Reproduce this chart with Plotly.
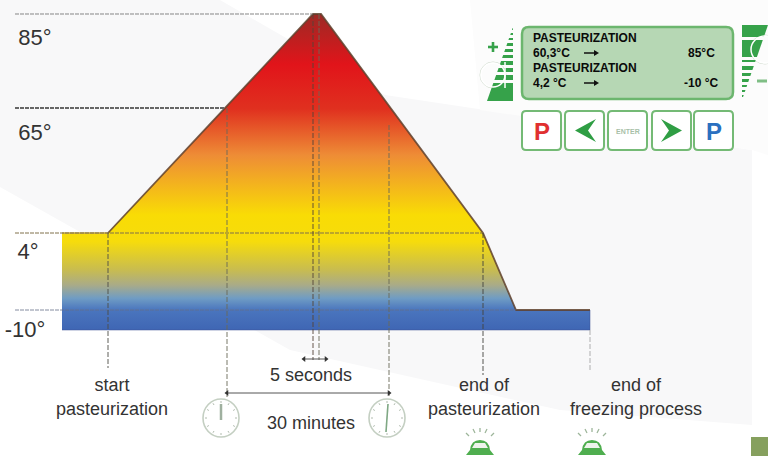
import math
import plotly.graph_objects as go

# Schematic process profile (horizontal stage / vertical level units)
profile_x = [62, 108, 313, 321, 483, 516, 590, 590, 62, 62]
profile_y = [233, 233, 14, 14, 233, 310, 310, 330, 330, 233]
outline_x = [62, 108, 313, 321, 483, 516, 590]
outline_y = [233, 233, 14, 14, 233, 310, 310]

temp_labels = ["85°", "65°", "4°", "-10°"]
temp_label_x = [35, 35, 28, 25]
temp_label_y = [39, 134, 253, 331]

h_levels = [14, 108, 233, 310]
h_ends = [313, 225, 483, 516]
h_widths = [1.0, 2.0, 1.0, 0.8]
h_colors = ["#858585", "#666666", "#80704a", "#666f88"]

v_stage = [108, 227, 313, 319, 389, 483, 590]
v_top = [233, 108, 14, 14, 125, 233, 330]
v_bottom = [368, 397, 360, 360, 397, 375, 372]
v_colors = ["#4f4f48", "#6a6a58", "#554538", "#6a6a58", "#6a6a58", "#45453f", "#a8a8a8"]

stage_labels = ["start", "pasteurization", "5 seconds", "30 minutes", "end of",
                "pasteurization", "end of", "freezing process"]
stage_label_x = [112, 112, 311, 311, 484, 484, 636, 636]
stage_label_y = [386, 410, 376, 424, 386, 410, 386, 410]

grad_pos = [0.0, 0.16, 0.30, 0.446, 0.636, 0.72, 0.81, 0.858, 0.90, 0.937, 1.0]
grad_col = ["#9c2a25", "#e1141a", "#e0301f", "#ee8c36", "#f9dc05", "#f6dc0c",
            "#c8bc50", "#a9ab88", "#6f9cc4", "#4a75be", "#3f66b4"]

display_rows = ["PASTEURIZATION", "60,3°C", "PASTEURIZATION", "4,2 °C"]
display_row_y = [38, 53, 68, 83]
display_targets = ["85°C", "-10 °C"]
display_target_x = [717, 720]
display_target_y = [53, 83]

GREEN = "#2f9e44"
fig = go.Figure()
shapes = []
anns = []


def poly(points, fill, line=None, width=0, layer="above"):
    d = "M " + " L ".join(f"{x},{y}" for x, y in points) + " Z"
    shapes.append(dict(type="path", path=d, fillcolor=fill, layer=layer,
                       line=dict(color=line or "rgba(0,0,0,0)", width=width)))


def seg(x0, y0, x1, y1, color, width=1, dash=None, layer="above"):
    shapes.append(dict(type="line", x0=x0, y0=y0, x1=x1, y1=y1, layer=layer,
                       line=dict(color=color, width=width, dash=dash)))


def rrect(x0, y0, x1, y1, r, fill, line, width):
    d = (f"M {x0+r},{y0} L {x1-r},{y0} Q {x1},{y0} {x1},{y0+r} L {x1},{y1-r} Q {x1},{y1} {x1-r},{y1} "
         f"L {x0+r},{y1} Q {x0},{y1} {x0},{y1-r} L {x0},{y0+r} Q {x0},{y0} {x0+r},{y0} Z")
    shapes.append(dict(type="path", path=d, fillcolor=fill, layer="above",
                       line=dict(color=line, width=width)))


def ring(x0, x1, y0, y1, color, width):
    shapes.append(dict(type="circle", x0=x0, x1=x1, y0=y0, y1=y1, layer="above",
                       fillcolor="rgba(0,0,0,0)", line=dict(color=color, width=width)))


# Pale background panels
poly([(0, 0), (220, 0), (385, 95), (752, 150), (752, 425), (560, 410), (290, 350), (0, 187)], "#f8f8f9", layer="below")
poly([(470, 0), (768, 0), (768, 155), (752, 150), (480, 110)], "#fcfcfc", layer="below")
poly([(751, 437), (768, 437), (768, 456), (751, 456)], "#86a05e", layer="below")

# Gradient-filled profile
fig.add_trace(go.Scatter(
    x=profile_x, y=profile_y, mode="none", fill="toself", hoverinfo="skip",
    fillgradient=dict(type="vertical", start=14, stop=330,
                      colorscale=[[p, c] for p, c in zip(grad_pos, grad_col)]),
))
fig.add_trace(go.Scatter(x=outline_x[:2], y=outline_y[:2], mode="lines",
                         line=dict(color="#c2a54a", width=1.5)))
fig.add_trace(go.Scatter(x=outline_x[1:], y=outline_y[1:], mode="lines",
                         line=dict(color="rgba(95,65,45,0.85)", width=1.8)))
fig.add_trace(go.Scatter(x=[590, 590, 62], y=[310, 330, 330], mode="lines",
                         line=dict(color="rgba(60,80,150,0.5)", width=1)))

# Dashed guides
for lv, end, w, col in zip(h_levels, h_ends, h_widths, h_colors):
    fig.add_trace(go.Scatter(x=[15, end], y=[lv, lv], mode="lines",
                             line=dict(color=col, width=w, dash="4px,1px")))
for st, t, b, col in zip(v_stage, v_top, v_bottom, v_colors):
    fig.add_trace(go.Scatter(x=[st, st], y=[t, b], mode="lines", opacity=0.9,
                             line=dict(color=col, width=1, dash="5px,2px")))

# Dimension arrows
for x0, x1, y in [(304, 326, 359), (227, 389, 393)]:
    fig.add_trace(go.Scatter(x=[x0, x1], y=[y, y], mode="lines+markers",
                             line=dict(color="#555555", width=1),
                             marker=dict(symbol=["triangle-left", "triangle-right"], size=5, color="#333333")))

fig.add_trace(go.Scatter(x=temp_label_x, y=temp_label_y, text=temp_labels, mode="text",
                         textfont=dict(family="Liberation Sans", size=22, color="#333333")))
fig.add_trace(go.Scatter(x=stage_label_x, y=stage_label_y, text=stage_labels, mode="text",
                         textfont=dict(family="Liberation Sans", size=18, color="#333333")))

# Clocks
for cx, cy, hand in [(221, 418, 0.0), (387, 418, 0.12)]:
    shapes.append(dict(type="circle", x0=cx - 18, x1=cx + 18, y0=cy - 19, y1=cy + 19, layer="above",
                       fillcolor="rgba(255,255,255,0.6)", line=dict(color="#c4cfc2", width=1.6)))
    for k in range(12):
        a = k * math.pi / 6
        seg(cx + 14 * math.sin(a), cy - 15 * math.cos(a), cx + 16 * math.sin(a), cy - 17 * math.cos(a), "#b0bbae", 1)
    if hand:
        seg(cx - 1, cy + 14, cx + 1, cy - 14, "#7fa884", 1.6)
    else:
        seg(cx, cy + 2, cx, cy - 14, "#9fb09f", 2.5)

# Bells
for cx in (480, 592):
    cy = 447
    d = (f"M {cx-14},{cy+8} L {cx+14},{cy+8} L {cx+10},{cy+3} Q {cx+9},{cy-7} {cx},{cy-7} "
         f"Q {cx-9},{cy-7} {cx-10},{cy+3} Z")
    shapes.append(dict(type="path", path=d, fillcolor="#4fae4f", layer="above", line=dict(width=0, color="#4fae4f")))
    poly([(cx - 5, cy - 4), (cx + 5, cy - 4), (cx + 8, cy + 1), (cx - 8, cy + 1)], "#eef4ec")
    for dx0, dy0, dx1, dy1 in [(-14, -14, -11, -11), (-7, -18, -5, -14), (0, -19, 0, -15), (7, -18, 5, -14), (14, -14, 11, -11)]:
        seg(cx + dx0, cy + dy0, cx + dx1, cy + dy1, "#9db59a", 1.3)

# Display panel
rrect(522, 27, 733, 99, 7, "#b6d7b4", "#6cb66e", 2.5)
anns_text = dict(xref="x", yref="y", showarrow=False, font=dict(family="Liberation Sans", size=12, color="#0a0a0a"))
for txt, y in zip(display_rows, display_row_y):
    anns.append(dict(text=f"<b>{txt}</b>", x=530.5, y=y, xanchor="left", **anns_text))
for txt, x, y in zip(display_targets, display_target_x, display_target_y):
    anns.append(dict(text=f"<b>{txt}</b>", x=x, y=y, xanchor="right", **anns_text))
for y in (53, 83):
    seg(584, y, 595, y, "#111111", 1.5)
    poly([(594, y - 3), (599, y), (594, y + 3)], "#111111")

# Buttons
for x0, x1 in [(522, 561), (565, 604), (608, 647), (652, 691), (694, 733)]:
    rrect(x0, 111, x1, 150, 4, "#ffffff", "#74ba75", 2)
anns.append(dict(text="<b>P</b>", x=541.5, y=131, xref="x", yref="y", showarrow=False,
                 font=dict(family="Liberation Sans", size=24, color="#e03030")))
anns.append(dict(text="<b>P</b>", x=713.5, y=131, xref="x", yref="y", showarrow=False,
                 font=dict(family="Liberation Sans", size=24, color="#2a70c0")))
anns.append(dict(text="<b>ENTER</b>", x=627.5, y=131, xref="x", yref="y", showarrow=False,
                 font=dict(family="Liberation Sans", size=7, color="#a8bfa8")))
poly([(596, 119), (575, 130.5), (596, 142), (588, 130.5)], GREEN)
poly([(661, 119), (682, 130.5), (661, 142), (669, 130.5)], GREEN)

# Plus-side wedge
ring(480, 506, 62, 88, "#d5dfd3", 1)
for y0, y1 in [(28, 30), (33, 35), (38, 40), (43, 46), (49, 52), (55, 58), (61, 65), (68, 72), (75, 80), (83, 101)]:
    xl0 = 513 - (y0 - 27) * 26 / 74
    xl1 = 513 - (y1 - 27) * 26 / 74
    poly([(xl0, y0), (513, y0), (513, y1), (xl1, y1)], "#36a24a")
ring(481, 505, 63, 87, "#ffffff", 1.5)
seg(505, 62, 505, 88, "#ffffff", 1.5)
seg(488, 47, 498, 47, "#36a24a", 2.6)
seg(493, 42, 493, 52, "#36a24a", 2.6)
# Minus-side wedge
ring(750, 780, 35, 64, "#d5dfd3", 1)
for y0, y1 in [(25, 37), (40, 57), (60, 62), (66, 70), (73, 76), (79, 82), (85, 87), (90, 92), (95, 97)]:
    xr0 = 768 - (y0 - 25) * 26 / 75
    xr1 = 768 - (y1 - 25) * 26 / 75
    poly([(742, y0), (xr0, y0), (xr1, y1), (742, y1)], "#36a24a")
ring(751, 779, 36, 63, "#ffffff", 1.5)
seg(757, 81, 767, 81, "#7fbe85", 3)

fig.update_layout(
    width=768, height=456, margin=dict(l=0, r=0, t=0, b=0), autosize=False,
    paper_bgcolor="#ffffff", plot_bgcolor="#ffffff", showlegend=False,
    xaxis=dict(range=[0, 768], visible=False, fixedrange=True),
    yaxis=dict(range=[456, 0], visible=False, fixedrange=True),
    shapes=shapes, annotations=anns,
)
fig.write_html("out.html", config=dict(displayModeBar=False),
               post_script="document.body.style.margin='0';document.documentElement.style.overflow='hidden';")
